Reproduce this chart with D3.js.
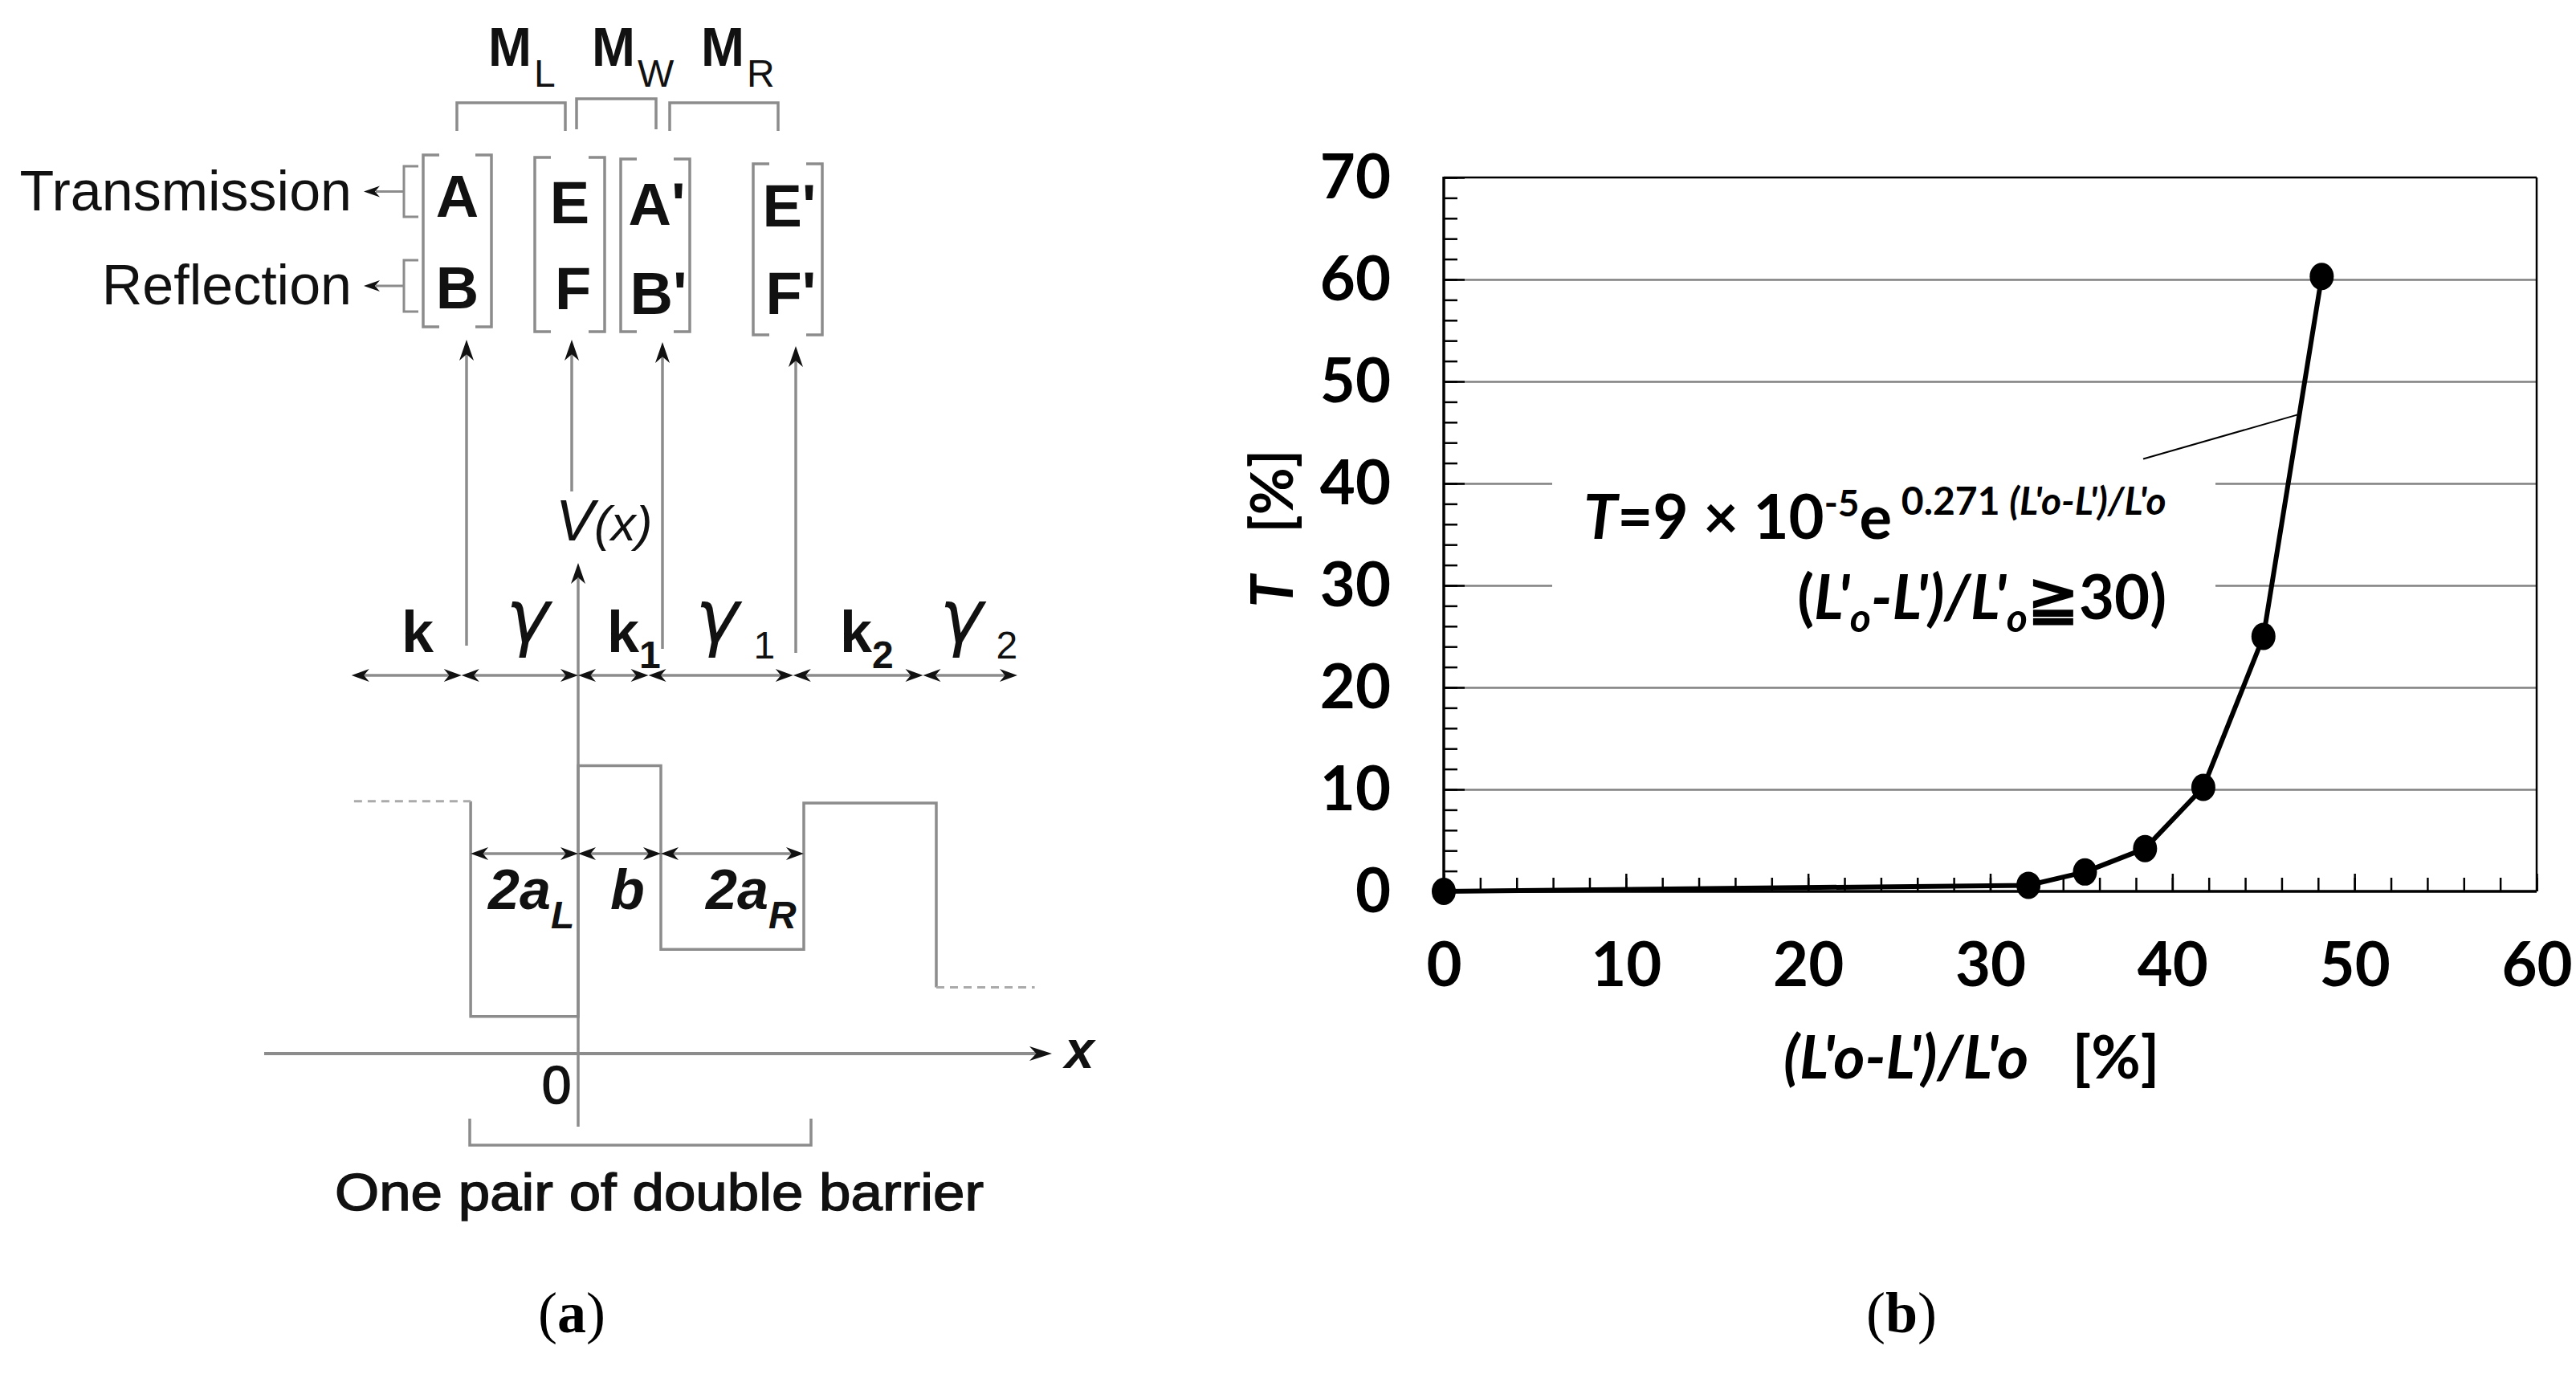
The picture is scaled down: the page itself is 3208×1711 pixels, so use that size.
<!DOCTYPE html>
<html><head><meta charset="utf-8">
<script src="https://cdn.jsdelivr.net/npm/d3@7"></script>
<style>html,body{margin:0;padding:0;background:#fff;}svg{display:block;}</style>
</head><body>
<script>
// ================= Panel (b) data =================
const deformation  = [0, 32.1, 35.2, 38.5, 41.7, 45.0, 48.2];   // (L'o-L')/L'o  [%]
const transmission = [0, 0.6, 1.9, 4.2, 10.2, 25.0, 60.3];      // T [%]
const xTickValues  = [0, 10, 20, 30, 40, 50, 60];
const yTickValues  = [0, 10, 20, 30, 40, 50, 60, 70];
const gridValues   = [10, 20, 30, 40, 50, 60];
const leaderX = [38.4, 47.0];
const leaderY = [42.4, 46.8];

// ================= Panel (a) schematic data (arbitrary units) =================
const profileEdges  = [-2.71, -1.30, 0, 1.0, 2.728, 4.33, 5.52];   // region boundaries along x
const profileLevels = [3.05, 0.45, 3.48, 1.26, 3.03, 0.80];        // V(x) in each region
const waveBounds    = [-2.74, -1.41, 0, 0.85, 2.60, 4.17, 5.31];   // k / gamma regions
const waveLabels    = [["k",""],["γ",""],["k","1"],["γ","1"],["k","2"],["γ","2"]];
const widthBounds   = [-1.30, 0, 1.0, 2.728];
const widthLabels   = [["2a","L"],["b",""],["2a","R"]];
const matrixLabels  = [["M","L"],["M","W"],["M","R"]];
const columnTop     = ["A","E","A'","E'"];
const columnBottom  = ["B","F","B'","F'"];

const W = 3208, H = 1711;
const svg = d3.select("body").append("svg").attr("width", W).attr("height", H)
  .style("background", "#fff");

// ---------------- Panel (a) ----------------
const A = svg.append("g");
const ax = d3.scaleLinear().domain([0, 1]).range([720, 823]);
const ay = d3.scaleLinear().domain([0, 1]).range([1312, 1209]);
const gray = "#8c8c8c", lw = 3.5;
const SANS = "Liberation Sans, Arial, sans-serif";

function head(g, x, y, dir, len = 22, w = 16) {
  let p;
  if (dir === "r") p = [[x, y], [x - len, y - w / 2], [x - len * 0.7, y], [x - len, y + w / 2]];
  if (dir === "l") p = [[x, y], [x + len, y - w / 2], [x + len * 0.7, y], [x + len, y + w / 2]];
  if (dir === "u") p = [[x, y], [x - w / 2, y + len], [x, y + len * 0.7], [x + w / 2, y + len]];
  if (dir === "d") p = [[x, y], [x - w / 2, y - len], [x, y - len * 0.7], [x + w / 2, y - len]];
  g.append("path").attr("d", "M" + p.map(q => q.join(",")).join("L") + "Z").attr("fill", "#111");
}
function line(g, x1, y1, x2, y2, opt = {}) {
  return g.append("line").attr("x1", x1).attr("y1", y1).attr("x2", x2).attr("y2", y2)
    .attr("stroke", opt.color || gray).attr("stroke-width", opt.w || lw)
    .attr("stroke-dasharray", opt.dash || null);
}

// matrix labels and top brackets
const mPos = [[608, 569, 704, 128, 163], [737, 718, 817, 123, 161], [873, 834, 969, 128, 163]];
matrixLabels.forEach((m, i) => {
  const t = A.append("text").attr("x", mPos[i][0]).attr("y", 82)
    .attr("font-family", SANS).attr("font-size", 68).attr("font-weight", "bold").attr("fill", "#111");
  t.append("tspan").attr("textLength", 54).attr("lengthAdjust", "spacingAndGlyphs").text(m[0]);
  t.append("tspan").attr("font-size", 48).attr("font-weight", "normal").attr("dy", 26).attr("dx", 3).text(m[1]);
  const [, x1, x2, y1, y2] = mPos[i];
  A.append("path").attr("d", `M${x1},${y2}L${x1},${y1}L${x2},${y1}L${x2},${y2}`)
    .attr("fill", "none").attr("stroke", gray).attr("stroke-width", lw);
});

// column vector brackets
const cols = [[527, 612, 193, 407], [666, 753, 196, 413], [773, 859, 198, 413], [938, 1024, 204, 417]];
const colBase = [[270, 384], [278, 385], [280, 391], [282, 391]];
cols.forEach((c, i) => {
  const [x1, x2, y1, y2] = c, s = 20;
  A.append("path").attr("d", `M${x1 + s},${y1}L${x1},${y1}L${x1},${y2}L${x1 + s},${y2}`)
    .attr("fill", "none").attr("stroke", gray).attr("stroke-width", lw);
  A.append("path").attr("d", `M${x2 - s},${y1}L${x2},${y1}L${x2},${y2}L${x2 - s},${y2}`)
    .attr("fill", "none").attr("stroke", gray).attr("stroke-width", lw);
  const cx = (x1 + x2) / 2;
  A.append("text").attr("x", cx + (i >= 2 ? 2 : 0)).attr("y", colBase[i][0]).attr("text-anchor", "middle")
    .attr("font-family", SANS).attr("font-size", 74).attr("font-weight", "bold").attr("fill", "#111")
    .text(columnTop[i]);
  A.append("text").attr("x", cx + (i >= 1 ? 4 : 0)).attr("y", colBase[i][1]).attr("text-anchor", "middle")
    .attr("font-family", SANS).attr("font-size", 74).attr("font-weight", "bold").attr("fill", "#111")
    .text(columnBottom[i]);
});

// Transmission / Reflection
[["Transmission", 262, 207, 270], ["Reflection", 379, 324, 388]].forEach(([txt, base, y1, y2]) => {
  A.append("text").attr("x", 438).attr("y", base).attr("text-anchor", "end")
    .attr("font-family", SANS).attr("font-size", 70).attr("fill", "#111").text(txt);
  A.append("path").attr("d", `M521,${y1}L503,${y1}L503,${y2}L521,${y2}`)
    .attr("fill", "none").attr("stroke", gray).attr("stroke-width", 3);
  const ym = (y1 + y2) / 2;
  line(A, 503, ym, 468, ym, { w: 3 });
  head(A, 453, ym, "l", 20, 14);
});

// vertical arrows to coefficients
[[581, 804, 423], [712, 612, 423], [825, 808, 426], [991, 813, 431]].forEach(([x, yb, yt]) => {
  line(A, x, yb, x, yt + 18);
  head(A, x, yt, "u", 26, 18);
});

// V(x) axis and label
line(A, ax(0), 1403, ax(0), 720);
head(A, ax(0), 701, "u", 26, 18);
const vl = A.append("text").attr("x", 692).attr("y", 673).attr("font-family", SANS)
  .attr("font-size", 72).attr("font-style", "italic").attr("fill", "#111");
vl.append("tspan").text("V");
vl.append("tspan").attr("font-size", 62).text("(x)");

// x axis
line(A, 329, 1312, 1290, 1312, { w: 4 });
head(A, 1310, 1312, "r", 28, 18);
A.append("text").attr("x", 1326).attr("y", 1330).attr("font-family", SANS).attr("font-size", 66)
  .attr("font-style", "italic").attr("font-weight", "bold").attr("fill", "#111").text("x");
A.append("text").attr("x", 693).attr("y", 1374).attr("text-anchor", "middle").attr("font-family", SANS)
  .attr("font-size", 66).attr("fill", "#111").attr("stroke", "#111").attr("stroke-width", 1.5).text("0");

// potential profile
const yKrow = 841;
const prof = [];
for (let i = 1; i < profileLevels.length - 1; i++) {
  prof.push([ax(profileEdges[i]), ay(profileLevels[i - 1])]);
  prof.push([ax(profileEdges[i]), ay(profileLevels[i])]);
  prof.push([ax(profileEdges[i + 1]), ay(profileLevels[i])]);
}
prof.push([ax(profileEdges[profileLevels.length - 1]), ay(profileLevels[profileLevels.length - 1])]);
A.append("path").attr("d", d3.line()(prof)).attr("fill", "none").attr("stroke", gray).attr("stroke-width", lw);
line(A, ax(profileEdges[0]), ay(profileLevels[0]), ax(profileEdges[1]), ay(profileLevels[0]), { w: 3, dash: "10,7", color: "#aaa" });
const last = profileLevels.length - 1;
line(A, ax(profileEdges[last]), ay(profileLevels[last]), ax(profileEdges[last + 1]), ay(profileLevels[last]), { w: 3, dash: "10,7", color: "#aaa" });

// k / gamma double arrows
for (let i = 0; i < waveBounds.length - 1; i++) {
  const x1 = ax(waveBounds[i]), x2 = ax(waveBounds[i + 1]);
  line(A, x1 + 10, yKrow, x2 - 10, yKrow, { w: 3.5 });
  head(A, x1, yKrow, "l", 22, 16);
  head(A, x2, yKrow, "r", 22, 16);
}
const waveLabelX = [500, 630, 756, 866, 1046, 1170];
const waveSubDx = [0, 0, 0, 18, 0, 16];
const waveBase = [812, 800, 812, 800, 812, 800];
waveLabels.forEach((l, i) => {
  const isG = l[0] === "γ";
  const t = A.append("text").attr("x", waveLabelX[i]).attr("y", waveBase[i]).attr("font-family", SANS)
    .attr("font-size", 72).attr("font-weight", "bold").attr("fill", "#111");
  t.append("tspan").attr("font-style", isG ? "italic" : null)
    .attr("font-size", isG ? 92 : 72).attr("font-family", isG ? "DejaVu Sans, sans-serif" : SANS)
    .attr("font-weight", isG ? "normal" : "bold").text(l[0]);
  if (l[1]) t.append("tspan").attr("font-size", 48).attr("font-weight", isG ? "normal" : "bold")
    .attr("dx", waveSubDx[i]).attr("dy", isG ? 20 : 20).text(l[1]);
});

// width double arrows
const yW = 1063;
for (let i = 0; i < widthBounds.length - 1; i++) {
  const x1 = ax(widthBounds[i]), x2 = ax(widthBounds[i + 1]);
  line(A, x1 + 10, yW, x2 - 10, yW, { w: 3.5 });
  head(A, x1, yW, "l", 22, 16);
  head(A, x2, yW, "r", 22, 16);
}
const widthLabelX = [608, 760, 879];
widthLabels.forEach((l, i) => {
  const t = A.append("text").attr("x", widthLabelX[i]).attr("y", 1132).attr("font-family", SANS)
    .attr("font-size", 70).attr("font-weight", "bold").attr("font-style", "italic").attr("fill", "#111");
  t.append("tspan").text(l[0]);
  if (l[1]) t.append("tspan").attr("font-size", 48).attr("dy", 24).text(l[1]);
});

// bottom bracket
A.append("path").attr("d", "M585,1393L585,1426L1010,1426L1010,1393")
  .attr("fill", "none").attr("stroke", gray).attr("stroke-width", lw);
A.append("text").attr("x", 417).attr("y", 1507).attr("font-family", SANS).attr("font-size", 64)
  .attr("textLength", 808).attr("lengthAdjust", "spacingAndGlyphs")
  .attr("fill", "#111").attr("stroke", "#111").attr("stroke-width", 1.4).text("One pair of double barrier");

// ---------------- Panel (b) ----------------
const B = svg.append("g");
const FONT = "Lato, Carlito, Calibri, sans-serif";
const x = d3.scaleLinear().domain([0, 60]).range([1798, 3159]);
const y = d3.scaleLinear().domain([0, 70]).range([1110, 221]);

// gridlines
B.append("g").attr("transform", `translate(${x(0)},0)`)
  .call(d3.axisRight(y).tickValues(gridValues).tickSize(x(60) - x(0)).tickFormat(""))
  .call(g => g.select(".domain").remove())
  .call(g => g.selectAll("line").attr("stroke", "#808080").attr("stroke-width", 2.4));

// white annotation background
B.append("rect").attr("x", 1933).attr("y", 588).attr("width", 826).attr("height", 210).attr("fill", "#fff");

// minor & major ticks (inward)
const minorY = d3.range(0, 70.1, 2), minorX = d3.range(0, 60.1, 2);
B.append("g").attr("transform", `translate(${x(0)},0)`)
  .call(d3.axisRight(y).tickValues(minorY).tickSize(17).tickFormat(""))
  .call(g => g.select(".domain").remove())
  .call(g => g.selectAll("line").attr("stroke", "#000").attr("stroke-width", 2.5));
B.append("g").attr("transform", `translate(${x(0)},0)`)
  .call(d3.axisRight(y).tickValues(yTickValues).tickSize(26).tickFormat(""))
  .call(g => g.select(".domain").remove())
  .call(g => g.selectAll("line").attr("stroke", "#000").attr("stroke-width", 2.5));
B.append("g").attr("transform", `translate(0,${y(0)})`)
  .call(d3.axisTop(x).tickValues(minorX).tickSize(17).tickFormat(""))
  .call(g => g.select(".domain").remove())
  .call(g => g.selectAll("line").attr("stroke", "#000").attr("stroke-width", 2.5));
B.append("g").attr("transform", `translate(0,${y(0)})`)
  .call(d3.axisTop(x).tickValues(xTickValues).tickSize(22).tickFormat(""))
  .call(g => g.select(".domain").remove())
  .call(g => g.selectAll("line").attr("stroke", "#000").attr("stroke-width", 2.5));

// frame
line(B, x(0), y(70), x(60), y(70), { color: "#000", w: 2.5 });
line(B, x(60), y(70), x(60), y(0), { color: "#000", w: 2.5 });
line(B, x(0), y(70) - 1, x(0), y(0) + 1.5, { color: "#000", w: 3.5 });
line(B, x(0) - 1.5, y(0), x(60), y(0), { color: "#000", w: 3.5 });

// tick labels
B.append("g").attr("transform", `translate(${x(0)},0)`)
  .call(d3.axisLeft(y).tickValues(yTickValues).tickSize(0).tickPadding(66).tickFormat(d3.format("d")))
  .call(g => g.select(".domain").remove())
  .call(g => g.selectAll("text").attr("font-family", FONT).attr("font-size", 76).attr("font-weight", "bold")
    .attr("fill", "#000").attr("dy", "0.34em"));
B.append("g").attr("transform", `translate(0,${y(0)})`)
  .call(d3.axisBottom(x).tickValues(xTickValues).tickSize(0).tickPadding(64).tickFormat(d3.format("d")))
  .call(g => g.select(".domain").remove())
  .call(g => g.selectAll("text").attr("font-family", FONT).attr("font-size", 76).attr("font-weight", "bold").attr("fill", "#000"));

// axis titles
const yt = B.append("text").attr("transform", "translate(1610,658) rotate(-90)").attr("text-anchor", "middle")
  .attr("font-family", FONT).attr("font-size", 72).attr("font-weight", "bold").attr("fill", "#000")
  .style("white-space", "pre");
yt.append("tspan").attr("font-style", "italic").text("T");
yt.append("tspan").text("   [%]");
const xt = B.append("text").attr("x", 2221).attr("y", 1343)
  .attr("font-family", FONT).attr("font-size", 75).attr("font-weight", "bold").attr("fill", "#000")
  .style("white-space", "pre");
xt.append("tspan").attr("font-style", "italic").text("(L'o-L')/L'o");
xt.append("tspan").text("   [%]");

// annotation
const a1 = B.append("text").attr("x", 1972).attr("y", 671).attr("font-family", FONT)
  .attr("font-size", 76).attr("font-weight", "bold").attr("fill", "#000").style("white-space", "pre");
a1.append("tspan").attr("font-style", "italic").text("T");
a1.append("tspan").text("=9 × 10");
a1.append("tspan").attr("font-size", 46).attr("dy", -28).text("-5");
a1.append("tspan").attr("dy", 28).text("e");
a1.append("tspan").attr("font-size", 48).attr("dy", -30).text(" 0.271 ");
a1.append("tspan").attr("font-size", 48).attr("font-style", "italic").text("(L'o-L')/L'o");
const a2 = B.append("text").attr("x", 2698).attr("y", 771).attr("text-anchor", "end").attr("font-family", FONT)
  .attr("font-size", 76).attr("font-weight", "bold").attr("fill", "#000");
a2.append("tspan").text("(");
a2.append("tspan").attr("font-style", "italic").text("L'");
a2.append("tspan").attr("font-style", "italic").attr("font-size", 50).attr("dy", 16).text("o");
a2.append("tspan").attr("font-style", "italic").attr("dy", -16).text("-L')/L'");
a2.append("tspan").attr("font-style", "italic").attr("font-size", 50).attr("dy", 16).text("o");
a2.append("tspan").attr("dy", -16).text("≧30)");

// leader line
line(B, x(leaderX[0]), y(leaderY[0]), x(leaderX[1]), y(leaderY[1]), { color: "#000", w: 2 });

// data line & markers
const pts = deformation.map((d, i) => [d, transmission[i]]);
B.append("path").datum(pts)
  .attr("d", d3.line().x(d => x(d[0])).y(d => y(d[1])))
  .attr("fill", "none").attr("stroke", "#000").attr("stroke-width", 6).attr("stroke-linejoin", "round");
B.selectAll("ellipse.pt").data(pts).enter().append("ellipse").attr("class", "pt")
  .attr("cx", d => x(d[0])).attr("cy", d => y(d[1])).attr("rx", 15).attr("ry", 17).attr("fill", "#000");

// ---------------- captions ----------------
const SERIF = "Liberation Serif, Times New Roman, serif";
[["a", 712], ["b", 2368]].forEach(([l, cx]) => {
  const t = svg.append("text").attr("x", cx).attr("y", 1659).attr("text-anchor", "middle")
    .attr("font-family", SERIF).attr("font-size", 72).attr("fill", "#000");
  t.append("tspan").text("(");
  t.append("tspan").attr("font-weight", "bold").text(l);
  t.append("tspan").text(")");
});
</script>
</body></html>
